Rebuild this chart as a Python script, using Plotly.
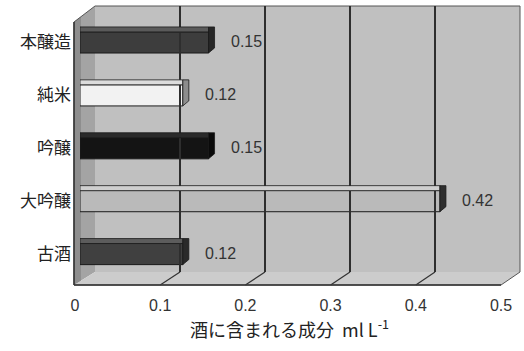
import plotly.graph_objects as go

categories = ["本醸造", "純米", "吟醸", "大吟醸", "古酒"]
values = [0.15, 0.12, 0.15, 0.42, 0.12]
front_colors = ["#3d3d3d", "#f2f2f2", "#141414", "#bababa", "#404040"]
top_colors = ["#5a5a5a", "#dcdcdc", "#2a2a2a", "#cfcfcf", "#5c5c5c"]
side_colors = ["#262626", "#8c8c8c", "#0a0a0a", "#2e2e2e", "#2a2a2a"]
tick_vals = [0, 0.1, 0.2, 0.3, 0.4, 0.5]
tick_text = ["0", "0.1", "0.2", "0.3", "0.4", "0.5"]
grid_vals = [0.1, 0.2, 0.3, 0.4]
x_title = "酒に含まれる成分  ml L<sup>-1</sup>"

W, H = 524, 351
def px(x):
    return x / W
def py(y):
    return 1 - y / H

# layout geometry (window pixels)
FRONT_L, FRONT_R, FRONT_B, FRONT_T = 75, 501, 285, 22
BACK_L, BACK_R, BACK_B, BACK_T = 95, 520, 272, 6
BAR_L, BAR_R = 80, 508.5
BAR_TOP, BAR_BOT = 16, 280.5

fig = go.Figure()
fig.add_trace(go.Bar(
    x=values, y=categories, orientation="h",
    marker=dict(color=front_colors, line=dict(color="#1a1a1a", width=1)),
    width=0.4, xaxis="x", yaxis="y", showlegend=False, hoverinfo="skip",
))
fig.add_trace(go.Scatter(x=[0, 0.5], y=[0, 0], mode="markers", marker=dict(opacity=0),
                         xaxis="x2", yaxis="y2", showlegend=False, hoverinfo="skip"))
fig.add_trace(go.Scatter(x=[0, 0.5], y=[0, 0], mode="markers", marker=dict(opacity=0),
                         xaxis="x3", yaxis="y3", showlegend=False, hoverinfo="skip"))

shapes = []
# back wall
shapes.append(dict(type="rect", xref="paper", yref="paper",
                   x0=px(BACK_L), x1=px(BACK_R), y0=py(BACK_B), y1=py(BACK_T),
                   fillcolor="#c0c0c0", line=dict(width=0), layer="below"))
# left wall
shapes.append(dict(type="path", xref="paper", yref="paper",
                   path=f"M{px(74)},{py(FRONT_B)} L{px(74)},{py(FRONT_T)} L{px(BACK_L)},{py(BACK_T)} L{px(BACK_L)},{py(BACK_B)} Z",
                   fillcolor="#a4a4a4", line=dict(width=0), layer="below"))
shapes.append(dict(type="path", xref="paper", yref="paper",
                   path=f"M{px(74)},{py(FRONT_B)} L{px(74)},{py(FRONT_T)} L{px(81)},{py(FRONT_T - 5)} L{px(81)},{py(FRONT_B - 4)} Z",
                   fillcolor="#8e8e8e", line=dict(width=0), layer="below"))
# floor
shapes.append(dict(type="path", xref="paper", yref="paper",
                   path=f"M{px(74)},{py(FRONT_B)} L{px(BACK_L)},{py(BACK_B)} L{px(BACK_R)},{py(BACK_B)} L{px(FRONT_R)},{py(FRONT_B)} Z",
                   fillcolor="#cccccc", line=dict(width=0), layer="below"))
# floor grid diagonals
for v in grid_vals:
    bx = BACK_L + v / 0.5 * (BACK_R - BACK_L)
    fx = FRONT_L + v / 0.5 * (FRONT_R - FRONT_L)
    shapes.append(dict(type="line", xref="paper", yref="paper",
                       x0=px(bx), y0=py(BACK_B), x1=px(fx), y1=py(FRONT_B),
                       line=dict(color="#333333", width=1.2), layer="below"))
# outline
shapes.append(dict(type="path", xref="paper", yref="paper",
                   path=(f"M{px(74)},{py(FRONT_B)} L{px(74)},{py(FRONT_T)} L{px(BACK_L)},{py(BACK_T)} "
                         f"L{px(BACK_R)},{py(BACK_T)} L{px(BACK_R)},{py(BACK_B)} L{px(FRONT_R)},{py(FRONT_B)} Z"),
                   line=dict(color="#555555", width=1), layer="below"))
shapes.append(dict(type="line", xref="paper", yref="paper",
                   x0=px(74), x1=px(FRONT_R), y0=py(FRONT_B), y1=py(FRONT_B),
                   line=dict(color="#333333", width=1.5), layer="below"))
shapes.append(dict(type="line", xref="paper", yref="paper",
                   x0=px(74), x1=px(74), y0=py(FRONT_B), y1=py(FRONT_T),
                   line=dict(color="#333333", width=1.5), layer="below"))

# 3D faces of bars
for c, v, tc, sc in zip(categories, values, top_colors, side_colors):
    shapes.append(dict(type="rect", xref="x", yref="y", x0=0, x1=v,
                       ysizemode="pixel", yanchor=c, y0=10.5, y1=15.5,
                       fillcolor=tc, line=dict(color="#1a1a1a", width=0.8)))
    shapes.append(dict(type="path", xref="x", yref="y",
                       xsizemode="pixel", ysizemode="pixel", xanchor=v, yanchor=c,
                       path="M0,-10.5 L0,15.5 L6,15.5 L6,-5.5 Z",
                       fillcolor=sc, line=dict(color="#1a1a1a", width=0.8)))

annotations = []
for c, v in zip(categories, values):
    annotations.append(dict(x=v, y=c, xref="x", yref="y", text=f"{v:.2f}",
                            xanchor="left", xshift=20, yshift=1, showarrow=False,
                            font=dict(family="Liberation Sans, Arial", size=16, color="#333333")))
annotations.append(dict(x=px(289), y=py(328), xref="paper", yref="paper", text=x_title,
                        showarrow=False, xanchor="center", yanchor="middle",
                        font=dict(family="Noto Sans CJK JP, Liberation Sans", size=18, color="#222222")))

fig.update_layout(
    width=W, height=H,
    margin=dict(l=0, r=0, t=0, b=0, autoexpand=False),
    paper_bgcolor="white", plot_bgcolor="rgba(0,0,0,0)",
    bargap=0.6,
    shapes=shapes, annotations=annotations,
    xaxis=dict(domain=[px(BAR_L), px(BAR_R)], range=[0, 0.5], visible=False, anchor="y",
               automargin=False),
    yaxis=dict(domain=[py(BAR_BOT), py(BAR_TOP)], type="category",
               categoryorder="array", categoryarray=categories, autorange="reversed",
               showgrid=False, zeroline=False, showline=False, anchor="x",
               ticks="", ticklabelstandoff=8, automargin=False,
               tickfont=dict(family="Noto Sans CJK JP", size=17, color="#222222")),
    xaxis2=dict(domain=[px(FRONT_L), px(FRONT_R)], range=[0, 0.5], anchor="y2",
                tickvals=tick_vals, ticktext=tick_text, showgrid=False, zeroline=False,
                showline=False, ticks="", ticklabelstandoff=9, automargin=False,
                tickfont=dict(family="Liberation Sans, Arial", size=16, color="#333333")),
    yaxis2=dict(domain=[py(FRONT_B), py(FRONT_T)], range=[0, 1], visible=False, anchor="x2",
                automargin=False),
    xaxis3=dict(domain=[px(BACK_L), px(BACK_R)], range=[0, 0.5], anchor="y3",
                tickvals=grid_vals, showgrid=True, gridcolor="#2e2e2e", gridwidth=1.5,
                showticklabels=False, zeroline=False, showline=False, ticks="",
                automargin=False),
    yaxis3=dict(domain=[py(BACK_B), py(BACK_T)], range=[0, 1], visible=False, anchor="x3",
                automargin=False),
)

fig.write_html(
    "out.html",
    config={"displayModeBar": False},
    post_script="document.body.style.margin='0';document.body.style.overflow='hidden';",
)
